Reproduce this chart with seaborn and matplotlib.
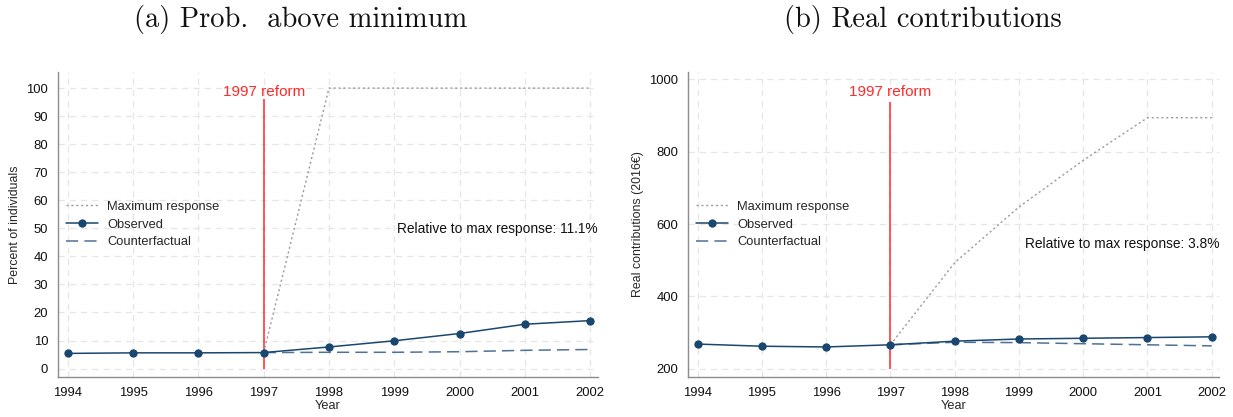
import matplotlib
matplotlib.use("Agg")
import matplotlib.pyplot as plt
import seaborn as sns
import pandas as pd
import numpy as np

years = [1994, 1995, 1996, 1997, 1998, 1999, 2000, 2001, 2002]
post_years = [1997, 1998, 1999, 2000, 2001, 2002]

# (a) share of individuals contributing above the minimum (%)
prob_observed = [5.4, 5.6, 5.6, 5.7, 7.7, 9.9, 12.5, 15.8, 17.1]
prob_counterfactual = [5.7, 5.8, 5.8, 6.0, 6.5, 6.8]
prob_max = [5.7, 100, 100, 100, 100, 100]

# (b) real contributions (2016 euros)
contrib_observed = [268, 262, 260, 266, 276, 282, 284, 286, 288]
contrib_counterfactual = [266, 273, 272, 269, 266, 263]
contrib_max = [266, 493, 647, 776, 894, 894]

titles = ["(a) Prob.  above minimum", "(b) Real contributions"]
ylabels = ["Percent of individuals", "Real contributions (2016\u20ac)"]
notes = ["Relative to max response: 11.1%", "Relative to max response: 3.8%"]

sns.set_theme(style="white")
plt.rcParams["font.family"] = ["Liberation Sans", "DejaVu Sans"]

NAVY = "#1a476f"
CF_BLUE = "#4f7196"
GREY = "#9a9a9a"
RED = "#ff2a2a"
SPINE = "#8c8c8c"

fig = plt.figure(figsize=(12.33, 4.17), dpi=100)
ax1 = fig.add_axes([0.047, 0.096, 0.438, 0.731])
ax2 = fig.add_axes([0.558, 0.096, 0.431, 0.731])

panels = [
    (ax1, prob_observed, prob_counterfactual, prob_max,
     (-3, 105.7), np.arange(0, 101, 10), (0, 96), 98.6, 49.7),
    (ax2, contrib_observed, contrib_counterfactual, contrib_max,
     (177, 1020), np.arange(200, 1001, 200), (200, 937), 965, 546),
]

for i, (ax, obs, cf, mx, ylim, yticks, reform_span, reform_y, note_y) in enumerate(panels):
    df_obs = pd.DataFrame({"Year": years, "value": obs})
    df_cf = pd.DataFrame({"Year": post_years, "value": cf})
    df_mx = pd.DataFrame({"Year": post_years, "value": mx})

    ax.set_xlim(1993.85, 2002.12)
    ax.set_ylim(*ylim)

    # grid
    for yt in yticks:
        ax.axhline(yt, color="#e6e6e6", lw=0.9, ls=(0, (5, 4)), zorder=0)
    for xt in years:
        ax.axvline(xt, color="#e6e6e6", lw=0.9, ls=(0, (5, 4)), zorder=0)

    # reform marker
    ax.vlines(1997, reform_span[0], reform_span[1], color=RED, lw=1.1, zorder=2)
    ax.text(1997, reform_y, "1997 reform", color=RED, ha="center", va="center",
            fontsize=11)

    sns.lineplot(data=df_mx, x="Year", y="value", ax=ax, color=GREY, lw=1.0,
                 linestyle=(0, (1.5, 2.0)), label="Maximum response", zorder=3)
    sns.lineplot(data=df_obs, x="Year", y="value", ax=ax, color=NAVY, lw=1.1,
                 marker="o", markersize=6, markeredgewidth=0,
                 label="Observed", zorder=5)
    sns.lineplot(data=df_cf, x="Year", y="value", ax=ax, color=CF_BLUE, lw=1.1,
                 linestyle=(0, (8, 4)), label="Counterfactual", zorder=4)

    ax.text(2002.12, note_y, notes[i], ha="right", va="center", fontsize=9.9,
            color="#111111")

    ax.set_xticks(years)
    ax.set_xticklabels([str(y) for y in years])
    ax.set_yticks(yticks)
    ax.tick_params(axis="both", labelsize=9.4, colors="#111111",
                   length=4, width=0.8, direction="out", pad=3)
    ax.tick_params(axis="both", color=SPINE)
    ax.set_xlabel("Year", fontsize=9.2, labelpad=1)
    ax.set_ylabel(ylabels[i], fontsize=8.9, labelpad=4)

    for side in ("top", "right"):
        ax.spines[side].set_visible(False)
    for side in ("left", "bottom"):
        ax.spines[side].set_color(SPINE)
        ax.spines[side].set_linewidth(1.0)

    ax.legend(loc="center left", bbox_to_anchor=(0.0, 0.5), frameon=False,
              fontsize=9.3, handlelength=2.5, handletextpad=0.7,
              labelspacing=0.45, borderaxespad=0.2)

# panel titles
fig.text(301 / 1233, 1 - 20 / 417, titles[0], family="cmr10", fontsize=20.5,
         ha="center", va="center", color="#111111")
fig.text(923 / 1233, 1 - 20 / 417, titles[1], family="cmr10", fontsize=20.5,
         ha="center", va="center", color="#111111")

fig.savefig("out.png", dpi=100)
